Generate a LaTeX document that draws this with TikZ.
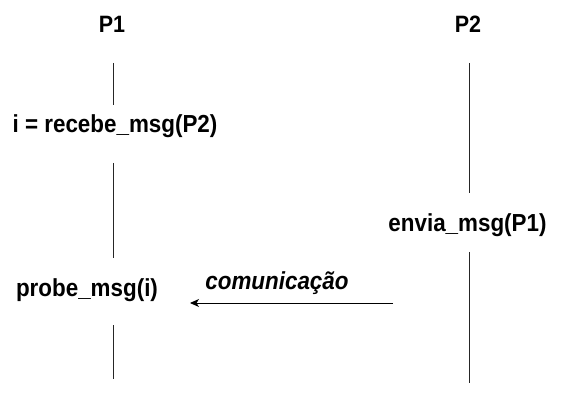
\documentclass[tikz,border=0pt]{standalone}
\usepackage{fontspec}
\setmainfont{Liberation Sans}
\usetikzlibrary{arrows.meta}
\newcommand{\tall}[1]{\scalebox{1}[1.1]{#1}}
\begin{document}
\begin{tikzpicture}[x=1pt,y=-1pt,
  lbl/.style={font=\bfseries\fontsize{22.4}{25}\selectfont, inner sep=0pt, anchor=base},
  hdr/.style={lbl, font=\bfseries\fontsize{21.5}{24}\selectfont},
  life/.style={line width=0.9pt, draw=black!85},
  msg/.style={line width=0.9pt, -{Stealth[length=9pt,width=8pt,inset=2.5pt]}}]
\useasboundingbox (0,0) rectangle (567,403);
% headers
\node[hdr] (p1) at (112,33) {\tall{P1}};
\node[hdr] (p2) at (468,33) {\tall{P2}};
% events
\node[lbl] (rec) at (115,133) {\tall{i = recebe\_msg(P2)}};
\node[lbl] (env) at (467.5,232) {\tall{envia\_msg(P1)}};
\node[lbl] (prb) at (87,296) {\tall{probe\_msg(i)}};
\node[lbl, font=\bfseries\itshape\fontsize{22.4}{25}\selectfont] (com) at (277,289) {\tall{comunicação}};
% lifeline endpoints
\coordinate (a1) at (113,63);
\coordinate (a2) at (113,105);
\coordinate (a3) at (113,163);
\coordinate (a4) at (113,258);
\coordinate (a5) at (113,325);
\coordinate (a6) at (113,379);
\coordinate (b1) at (469,63);
\coordinate (b2) at (469,193);
\coordinate (b3) at (469,252);
\coordinate (b4) at (469,383);
\draw[life] (a1) -- (a2);
\draw[life] (a3) -- (a4);
\draw[life] (a5) -- (a6);
\draw[life] (b1) -- (b2);
\draw[life] (b3) -- (b4);
% message
\coordinate (m1) at (393,303);
\coordinate (m2) at (190,303);
\draw[msg] (m1) -- (m2);
\end{tikzpicture}
\end{document}
